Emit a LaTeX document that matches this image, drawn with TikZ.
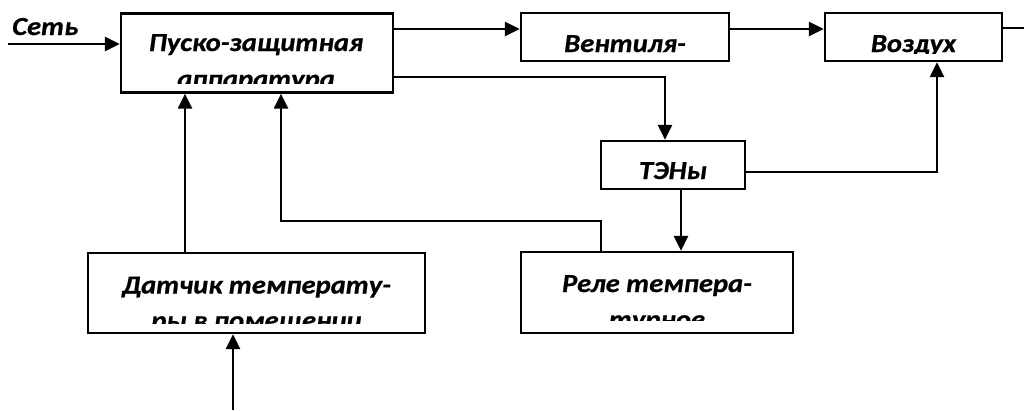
\documentclass[tikz,border=0pt]{standalone}
\usepackage{fontspec}
\setmainfont{Carlito}[FakeStretch=1.1, BoldItalicFeatures={FakeBold=0.7}]
\usetikzlibrary{arrows.meta}
\tikzset{
  box/.style={draw=black, line width=2.3pt, fill=white, inner sep=0pt},
  lbl/.style={inner sep=0pt, anchor=base, font=\fontsize{26}{30}\selectfont\bfseries\itshape},
  wire/.style={line width=2.3pt},
  arr/.style={wire, -{Triangle[length=15pt, width=14pt]}},
}
\begin{document}
\begin{tikzpicture}[x=1pt, y=-1pt]
\useasboundingbox (0,0) rectangle (1024,410);

% blocks
\node[box, minimum width=272pt, minimum height=79pt] (pz) at (257,53) {};
\node[box, minimum width=208pt, minimum height=48pt] (vent) at (625,37) {};
\node[box, minimum width=177pt, minimum height=48pt] (air) at (913.5,37) {};
\node[box, minimum width=144pt, minimum height=48pt] (ten) at (673,165) {};
\node[box, minimum width=337pt, minimum height=80pt] (dt) at (256.5,293) {};
\node[box, minimum width=272pt, minimum height=81pt] (rt) at (657,292.5) {};

% block texts (text frames cut off the overflowing lines)
\node[lbl] (pzA) at (256,51) {Пуско-защитная};
\begin{scope}
  \clip (122,14) rectangle (392,83.5);
  \node[lbl] (pzB) at (256,87.5) {аппаратура};
\end{scope}
\node[lbl] (ventA) at (625,52) {Вентиля-};
\begin{scope}
  \clip (826,14) rectangle (1001,53.5);
  \node[lbl] (airA) at (913.5,52) {Воздух};
\end{scope}
\node[lbl] (tenA) at (673,179) {ТЭНы};
\node[lbl] (dtA) at (256.5,293.5) {Датчик температу-};
\begin{scope}
  \clip (89,254) rectangle (424,323.5);
  \node[lbl] (dtB) at (256.5,329) {ры в помещении};
\end{scope}
\node[lbl] (rtA) at (657,292) {Реле темпера-};
\begin{scope}
  \clip (522,253) rectangle (792,320);
  \node[lbl] (rtB) at (657,328) {турное};
\end{scope}

\node[lbl, anchor=base west] (net) at (12,35) {Сеть};

% helper levels
\coordinate (inL) at (8,44);
\coordinate (yTop) at (0,29);
\coordinate (outR) at (1024,28);
\coordinate (yLow) at (665,77);
\coordinate (yTen) at (937,172);
\coordinate (yFb) at (281,221);
\coordinate (tenDown) at (681,0);
\coordinate (rtUp) at (601,0);
\coordinate (dtUp) at (185,0);
\coordinate (inB) at (233,410);

% connectors
\draw[arr] (inL) -- (inL -| pz.west);
\draw[arr] (pz.east |- yTop) -- (vent.west |- yTop);
\draw[arr] (vent.east |- yTop) -- (air.west |- yTop);
\draw[wire] (air.east |- outR) -- (outR);
\draw[arr] (pz.east |- yLow) -- (yLow) -- (yLow |- ten.north);
\draw[arr] (ten.east |- yTen) -- (yTen) -- (yTen |- air.south);
\draw[arr] (tenDown |- ten.south) -- (tenDown |- rt.north);
\draw[arr] (rtUp |- rt.north) -- (rtUp |- yFb) -- (yFb) -- (yFb |- pz.south);
\draw[arr] (dtUp |- dt.north) -- (dtUp |- pz.south);
\draw[arr] (inB) -- (inB |- dt.south);
\end{tikzpicture}
\end{document}
